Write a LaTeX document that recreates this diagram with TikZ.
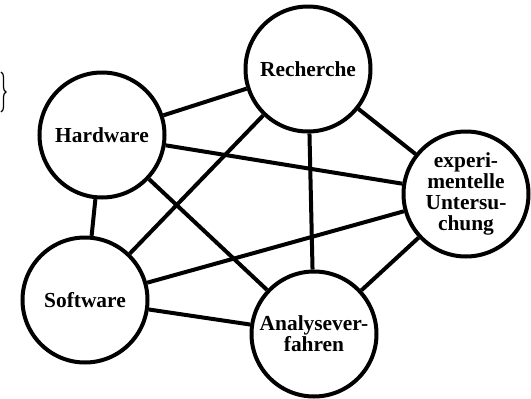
\documentclass[tikz,border=0pt]{standalone}
\usepackage{fontspec}
\setmainfont{Liberation Serif}
\usetikzlibrary{decorations.pathreplacing}
\tikzset{
  topic/.style={circle, draw=black, line width=4pt, minimum size=125pt, inner sep=0pt,
    align=center, fill=white,
    font=\fontsize{21.4}{21}\selectfont\bfseries},
  link/.style={line width=4pt, draw=black}
}
\begin{document}
\begin{tikzpicture}[x=1pt,y=-1pt]
\useasboundingbox (0,0) rectangle (531,399);
\node[topic] (R) at (308,69) {Recherche};
\node[topic] (H) at (102,135) {Hardware};
\node[topic] (E) at (466,194) {experi-\\mentelle\\Untersu-\\chung};
\node[topic] (S) at (85,300) {Software};
\node[topic] (A) at (314,334) {Analysever-\\fahren};
\draw[link] (H) -- (R);
\draw[link] (H) -- (E);
\draw[link] (H) -- (S);
\draw[link] (H) -- (A);
\draw[link] (R) -- (S);
\draw[link] (R) -- (A);
\draw[link] (R) -- (E);
\draw[link] (E) -- (S);
\draw[link] (E) -- (A);
\draw[link] (S) -- (A);
\coordinate (b1) at (1,72);
\coordinate (b2) at (1,112);
\draw[line width=1.2pt, decorate, decoration={brace, amplitude=5pt}] (b1) -- (b2);
\end{tikzpicture}
\end{document}
